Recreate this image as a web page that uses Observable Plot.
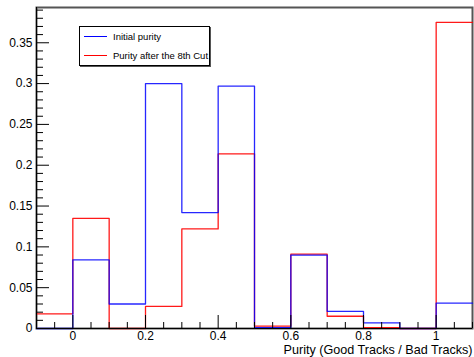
<!DOCTYPE html>
<html>
<head>
<meta charset="utf-8">
<script src="https://cdn.jsdelivr.net/npm/d3@7"></script>
<script src="https://cdn.jsdelivr.net/npm/@observablehq/plot@0.6"></script>
<style>
  body { margin: 0; background: #fff; }
  #wrap { position: relative; width: 474px; height: 357px; font-family: "Liberation Sans", Arial, sans-serif; }
  .legend { position: absolute; left: 79px; top: 26px; width: 129px; height: 38px; border: 1px solid #000; background: #fff; box-shadow: 1px 1px 0 #555; font-size: 9.5px; color: #000; }
  .legend .row { position: absolute; left: 4px; height: 12px; line-height: 12px; white-space: nowrap; }
  .legend .sw { display: inline-block; width: 23px; height: 0; border-top: 1px solid; vertical-align: middle; margin-right: 6px; position: relative; top: -1px; }
</style>
</head>
<body>
<div id="wrap"></div>
<script>
// Bin edges (purity) and histogram contents
const binEdges = [-0.1, 0, 0.1, 0.2, 0.3, 0.4, 0.5, 0.6, 0.7, 0.8, 0.9, 1.0, 1.1];
const initialPurity = [0, 0.084, 0.030, 0.300, 0.142, 0.297, 0.001, 0.090, 0.021, 0.007, 0, 0.031];
const purityAfter8thCut = [0.018, 0.135, 0, 0.027, 0.122, 0.214, 0.003, 0.091, 0.015, 0.001, 0, 0.375];
const seriesNames = ["Initial purity", "Purity after the 8th Cut"];
const seriesColors = ["#0000ff", "#ff0000"];
const xMajorTicks = [0, 0.2, 0.4, 0.6, 0.8, 1.0];
const yMajorTicks = [0, 0.05, 0.1, 0.15, 0.2, 0.25, 0.3, 0.35];
const xTitle = "Purity (Good Tracks / Bad Tracks)";

function stepRows(values) {
  const rows = values.map((v, i) => ({x: binEdges[i], y: v}));
  rows.push({x: binEdges[binEdges.length - 1], y: values[values.length - 1]});
  return rows;
}
const xMinor = d3.range(-0.1, 1.1001, 0.05).map(v => +v.toFixed(2)).filter(v => !xMajorTicks.some(m => Math.abs(m - v) < 1e-9));
const yMinor = d3.range(0, 0.3901, 0.01).map(v => +v.toFixed(2)).filter(v => !yMajorTicks.some(m => Math.abs(m - v) < 1e-9));
const fmt = d3.format("~g");

const plot = Plot.plot({
  width: 474,
  height: 357,
  marginLeft: 36,
  marginRight: 2,
  marginTop: 7,
  marginBottom: 29,
  style: {fontFamily: '"Liberation Sans", Arial, sans-serif', fontSize: "12px", color: "#000", background: "#fff"},
  x: {domain: [-0.1, 1.1]},
  y: {domain: [0, 0.3932]},
  marks: [
    Plot.frame({stroke: "#555", strokeWidth: 2}),
    Plot.line(stepRows(purityAfter8thCut), {x: "x", y: "y", curve: "step-after", stroke: seriesColors[1], strokeWidth: 1.3, strokeOpacity: 0.9}),
    Plot.line(stepRows(initialPurity), {x: "x", y: "y", curve: "step-after", stroke: seriesColors[0], strokeWidth: 1.3, strokeOpacity: 0.85}),
    Plot.ruleX([binEdges[0]], {stroke: "#000", strokeWidth: 1}),
    Plot.ruleY([0], {stroke: "#000", strokeWidth: 1}),
    Plot.axisY(yMajorTicks, {tickSize: -13, tickPadding: 17, tickFormat: fmt, label: null, fontSize: 12}),
    Plot.axisY(yMinor, {tickSize: -7, tickFormat: () => "", label: null}),
    Plot.axisX(xMajorTicks, {tickSize: -13, tickPadding: 15.5, tickFormat: fmt, label: null, fontSize: 12}),
    Plot.axisX(xMinor, {tickSize: -6, tickFormat: () => "", label: null}),
    Plot.text([xTitle], {frameAnchor: "bottom-right", dy: 25.5, lineAnchor: "bottom", textAnchor: "end", fontSize: 12.6, fill: "#000"})
  ]
});

const wrap = document.getElementById("wrap");
wrap.appendChild(plot);
const legend = document.createElement("div");
legend.className = "legend";
seriesNames.forEach((name, i) => {
  const row = document.createElement("div");
  row.className = "row";
  row.style.top = (i === 0 ? 4 : 23) + "px";
  const sw = document.createElement("span");
  sw.className = "sw";
  sw.style.borderColor = seriesColors[i];
  row.appendChild(sw);
  row.appendChild(document.createTextNode(name));
  legend.appendChild(row);
});
wrap.appendChild(legend);
</script>
</body>
</html>
